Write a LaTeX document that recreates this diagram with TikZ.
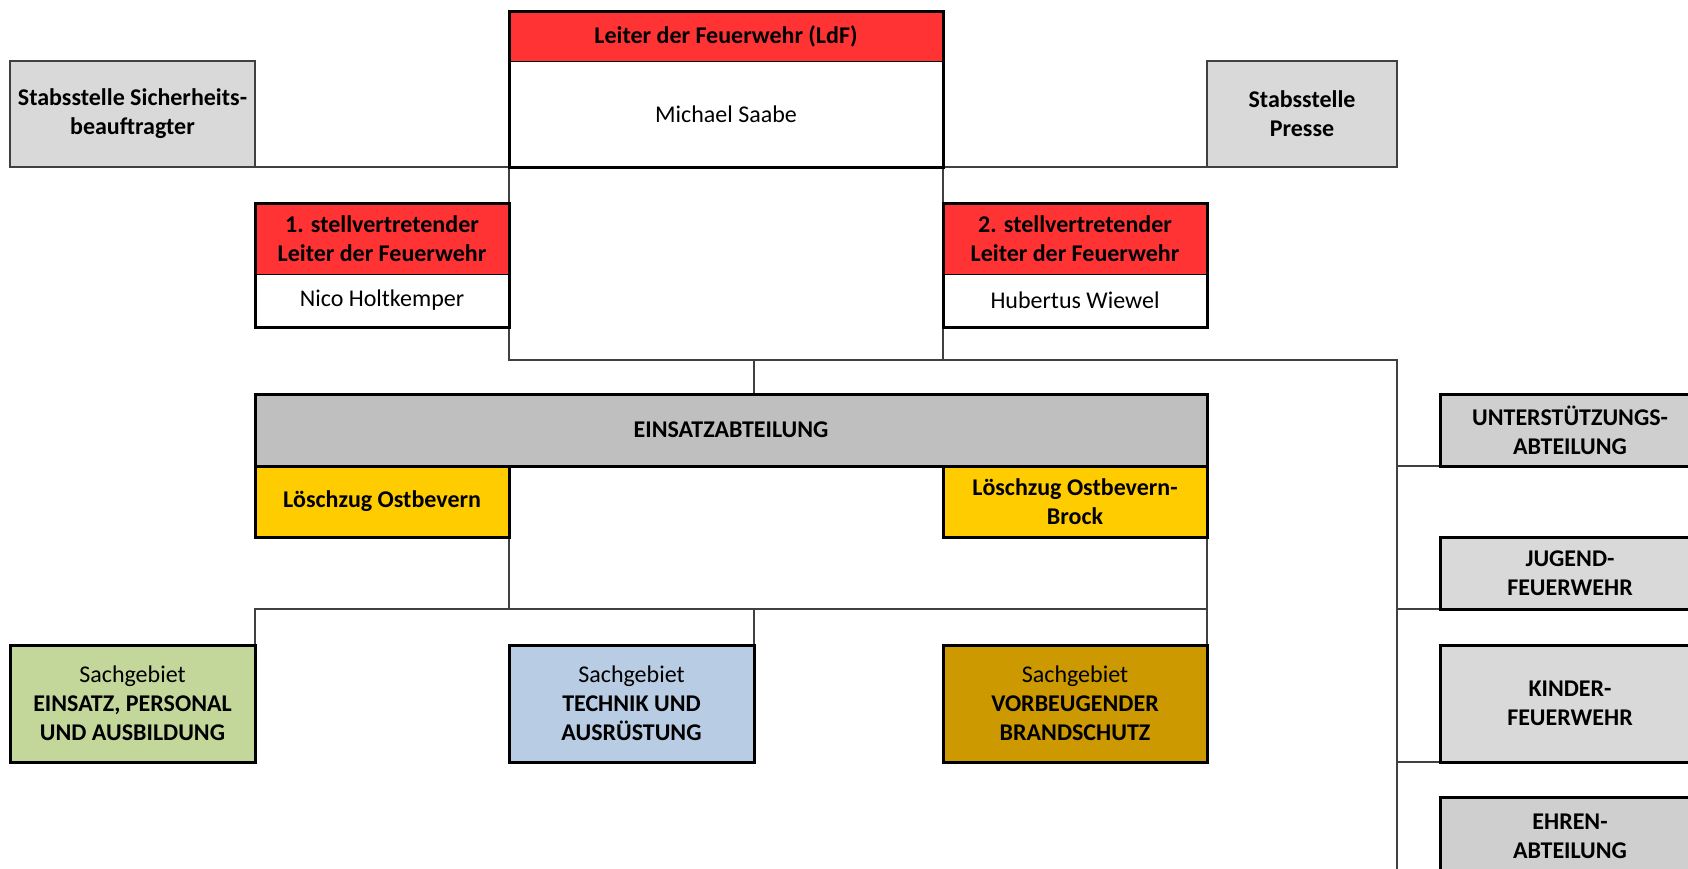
\documentclass[tikz,border=0pt]{standalone}
\usepackage{fontspec}
\setmainfont{Carlito}
\usepackage{tikz}
\usetikzlibrary{backgrounds}
\usetikzlibrary{positioning}
\definecolor{ldfred}{HTML}{FF3333}
\definecolor{stabgray}{HTML}{D9D9D9}
\definecolor{einsgray}{HTML}{BFBFBF}
\definecolor{abtgray}{HTML}{CFCFCF}
\definecolor{lzyellow}{HTML}{FFCC00}
\definecolor{sggreen}{HTML}{C4D79B}
\definecolor{sgblue}{HTML}{B8CCE4}
\definecolor{sggold}{HTML}{CC9900}
\tikzset{
    box/.style={draw=black, line width=3pt, anchor=north west, inner sep=0pt, outer sep=0pt,
        align=center, font=\fontsize{24}{29}\selectfont\bfseries},
    part/.style={box, line width=1pt},
    namebox/.style={part, fill=white, font=\fontsize{24}{29}\selectfont},
    stabbox/.style={box, line width=1.6pt, draw=black!75, fill=stabgray},
    sgbox/.style={box, font=\fontsize{24}{29}\selectfont, minimum width=#1, minimum height=117pt},
    frame/.style={draw=black, line width=3pt},
    link/.style={draw=black!75, line width=1.3pt},
}

\begin{document}
\begin{tikzpicture}[x=1pt,y=-1pt]
		\useasboundingbox (0,0) rectangle (1688,868);
		% Leitung
		\node[part, fill=ldfred, minimum width=434pt, minimum height=50pt] (ldfhead) at (509,11) {Leiter der Feuerwehr (LdF)};
		\node[namebox, minimum width=434pt, minimum height=106pt] (ldfbody) at (509,61) {Michael Saabe};
		\draw[frame] (ldfhead.north west) rectangle (ldfbody.south east);
		\node[stabbox, minimum width=245pt, minimum height=106pt] (sib) at (10,61) {Stabsstelle Sicherheits-\\beauftragter};
		\node[stabbox, minimum width=190pt, minimum height=106pt] (presse) at (1207,61) {Stabsstelle\\Presse};
		% Stellvertreter
		\node[part, fill=ldfred, minimum width=254pt, minimum height=71pt] (st1head) at (255,203) {1. stellvertretender\\Leiter der Feuerwehr};
		\node[namebox, minimum width=254pt, minimum height=53pt] (st1body) at (255,274) {Nico Holtkemper};
		\draw[frame] (st1head.north west) rectangle (st1body.south east);
		\node[part, fill=ldfred, minimum width=264pt, minimum height=71pt] (st2head) at (943,203) {2. stellvertretender\\Leiter der Feuerwehr};
		\node[namebox, minimum width=264pt, minimum height=53pt] (st2body) at (943,274) {Hubertus Wiewel};
		\draw[frame] (st2head.north west) rectangle (st2body.south east);
		% Einsatzabteilung
		\node[box, fill=einsgray, minimum width=952pt, minimum height=72pt] (einsatz) at (255,394) {EINSATZABTEILUNG};
		\node[box, fill=lzyellow, minimum width=254pt, minimum height=71pt] (lzo) at (255,466) {Löschzug Ostbevern};
		\node[box, fill=lzyellow, minimum width=264pt, minimum height=71pt] (lzb) at (943,466) {Löschzug Ostbevern-\\Brock};
		\node[sgbox=245pt, fill=sggreen] (sgep) at (10,645) {Sachgebiet\\\textbf{EINSATZ, PERSONAL}\\\textbf{UND AUSBILDUNG}};
		\node[sgbox=245pt, fill=sgblue] (sgta) at (509,645) {Sachgebiet\\\textbf{TECHNIK UND}\\\textbf{AUSRÜSTUNG}};
		\node[sgbox=264pt, fill=sggold] (sgvb) at (943,645) {Sachgebiet\\\textbf{VORBEUGENDER}\\\textbf{BRANDSCHUTZ}};
		% Abteilungen rechts
		\node[box, fill=abtgray, minimum width=260pt, minimum height=72pt] (unter) at (1440,394) {UNTERSTÜTZUNGS-\\ABTEILUNG};
		\node[box, fill=stabgray, minimum width=260pt, minimum height=72pt] (jugend) at (1440,537) {JUGEND-\\FEUERWEHR};
		\node[box, fill=stabgray, minimum width=260pt, minimum height=117pt] (kinder) at (1440,645) {KINDER-\\FEUERWEHR};
		\node[box, fill=abtgray, minimum width=260pt, minimum height=78pt] (ehren) at (1440,797) {EHREN-\\ABTEILUNG};
		% Verbindungen
		\coordinate (railL) at (509,360);
		\coordinate (railR) at (1397,360);
		\coordinate (railB) at (1397,880);
		\coordinate (busL) at (255,609);
		\coordinate (busR) at (1207,609);
		\begin{scope}[on background layer]
		\draw[link] (sib.south east) -- (ldfbody.south west);
		\draw[link] (ldfbody.south east) -- (presse.south west);
		\draw[link] (ldfbody.south west) -- (railL) -- (railR) -- (railB);
		\draw[link] (ldfbody.south east) -- (ldfbody.south east |- railL);
		\draw[link] (einsatz.north -| sgta.north east) -- (railL -| sgta.north east);
		\draw[link] (sgep.north east) -- (busL) -- (busR);
		\draw[link] (lzo.south east) -- (lzo.south east |- busL);
		\draw[link] (lzb.south east) -- (sgvb.north east);
		\draw[link] (sgta.north east) -- (sgta.north east |- busL);
		\foreach \n in {unter, jugend, kinder}
			\draw[link] (\n.south west) -- (\n.south west -| railR);
		\end{scope}
	\end{tikzpicture}
\end{document}
